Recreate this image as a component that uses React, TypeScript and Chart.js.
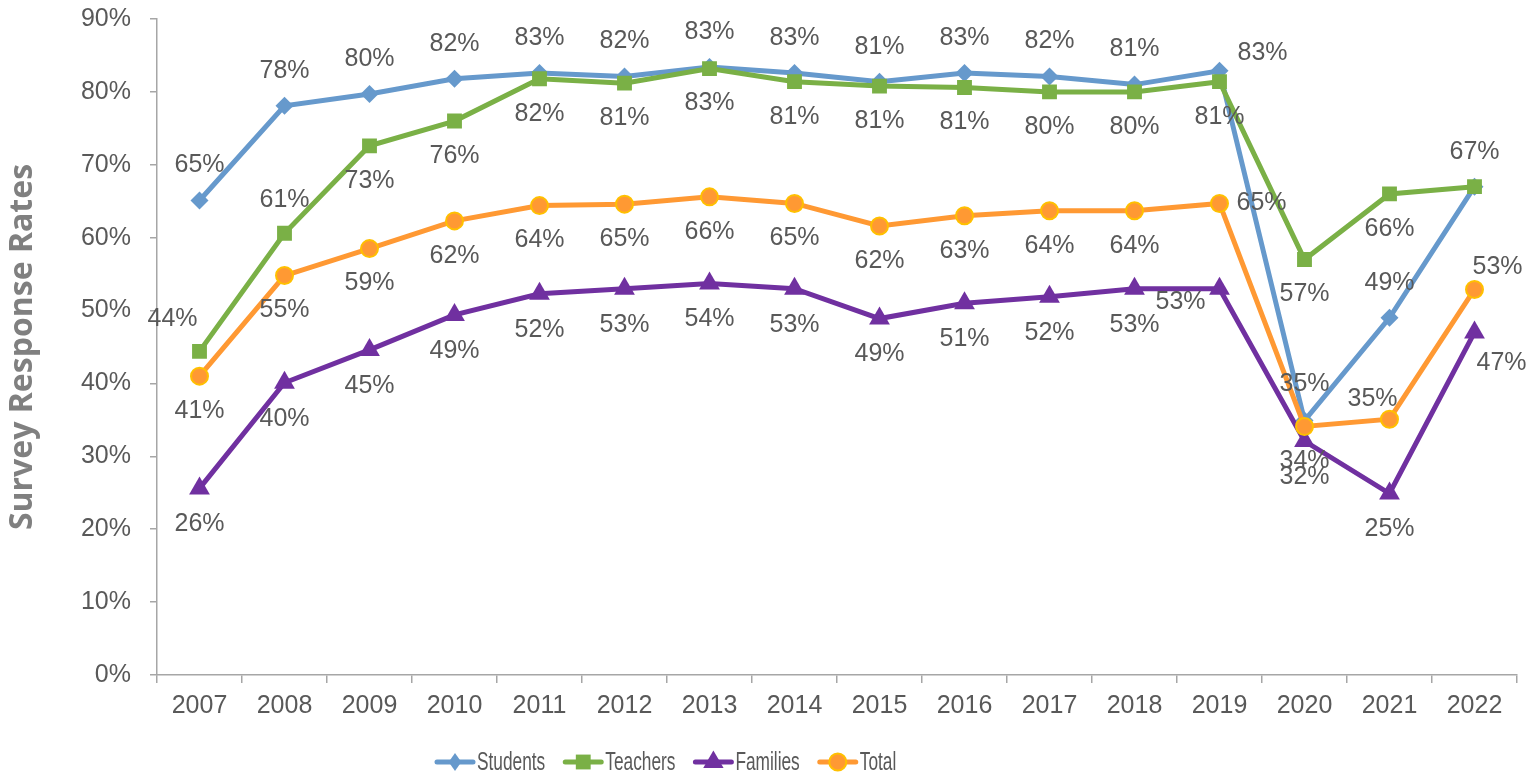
import React, { useEffect, useRef } from 'react';
import { Chart, registerables } from 'chart.js';

Chart.register(...registerables);

const years = ['2007', '2008', '2009', '2010', '2011', '2012', '2013', '2014', '2015', '2016', '2017', '2018', '2019', '2020', '2021', '2022'];
const students = [65.1, 78.1, 79.7, 81.8, 82.6, 82.1, 83.4, 82.6, 81.4, 82.6, 82.1, 81.0, 82.9, 34.9, 49.0, 67.0];
const teachers = [44.4, 60.6, 72.6, 76.0, 81.8, 81.2, 83.2, 81.4, 80.8, 80.6, 80.0, 80.0, 81.4, 57.0, 66.0, 67.0];
const families = [25.6, 40.1, 44.6, 49.4, 52.3, 53.0, 53.7, 53.0, 48.9, 51.0, 51.9, 53.0, 53.0, 32.1, 24.9, 47.0];
const total = [41.0, 54.8, 58.5, 62.3, 64.4, 64.6, 65.6, 64.7, 61.6, 63.0, 63.7, 63.7, 64.7, 34.1, 35.1, 52.9];
const seriesNames = ['Students', 'Teachers', 'Families', 'Total'];

const COLORS = {
  students: '#6699CC',
  teachers: '#7AB046',
  families: '#7030A0',
  total: '#FF9933',
  totalBorder: '#FFC000',
  text: '#595959',
  axis: '#A6A6A6',
  title: '#808080',
};

// canvas is shifted up so the plot area lands where the reference has it
const SHIFT = 15;
const CANVAS_H = 778 + SHIFT;

// label placement: default offset per series plus per-point overrides
const labelPlacement: { def: [number, number]; over: Record<number, [number, number]> }[] = [
  { def: [0, -35], over: { 12: [43, -18], 13: [0, -37] } },
  { def: [0, 35], over: { 0: [-27, -32], 1: [0, -33], 15: [0, -35] } },
  { def: [0, 36], over: { 12: [-39, 13], 15: [27, 31] } },
  { def: [0, 35], over: { 12: [42, 0], 14: [-17, -20], 15: [23, -22] } },
];

const LABEL_FONT = '25px "Liberation Sans", Arial, sans-serif';

const labelPlugin = {
  id: 'pctLabels',
  afterDatasetsDraw(chart: any) {
    const ctx = chart.ctx;
    const drawn = new Set<string>();
    ctx.save();
    ctx.font = LABEL_FONT;
    ctx.fillStyle = COLORS.text;
    ctx.textAlign = 'center';
    ctx.textBaseline = 'middle';
    chart.data.datasets.forEach((ds: any, i: number) => {
      const meta = chart.getDatasetMeta(i);
      const cfg = labelPlacement[i];
      meta.data.forEach((pt: any, j: number) => {
        const off = cfg.over[j] ?? cfg.def;
        const txt = Math.round(ds.data[j]) + '%';
        const x = pt.x + off[0];
        const y = pt.y + off[1];
        const key = txt + '@' + Math.round(x / 4) + ',' + Math.round(y / 4);
        if (drawn.has(key)) return;
        drawn.add(key);
        ctx.fillText(txt, x, y);
      });
    });
    ctx.restore();
  },
};

const legendPlugin = {
  id: 'customLegend',
  afterDraw(chart: any) {
    const ctx = chart.ctx;
    const y = 762 + SHIFT;
    let x = 437;
    const squeeze = 0.665;
    ctx.save();
    ctx.font = '26px "Liberation Sans", Arial, sans-serif';
    chart.data.datasets.forEach((ds: any) => {
      ctx.strokeStyle = ds.borderColor;
      ctx.lineWidth = 5;
      ctx.lineCap = 'round';
      ctx.beginPath();
      ctx.moveTo(x, y);
      ctx.lineTo(x + 36, y);
      ctx.stroke();
      const style = ds.pointStyle;
      const r = ds.pointRadius;
      ctx.fillStyle = ds.pointBackgroundColor;
      ctx.strokeStyle = ds.pointBorderColor;
      ctx.lineWidth = ds.pointBorderWidth;
      const cx = x + 18;
      ctx.beginPath();
      if (style === 'rectRot') {
        ctx.moveTo(cx, y - r);
        ctx.lineTo(cx + r * 0.7, y);
        ctx.lineTo(cx, y + r);
        ctx.lineTo(cx - r * 0.7, y);
        ctx.closePath();
      } else if (style === 'rect') {
        const s = r * 0.707;
        ctx.rect(cx - s, y - s, 2 * s, 2 * s);
      } else if (style === 'triangle') {
        ctx.moveTo(cx, y - r * 0.95);
        ctx.lineTo(cx + r * 0.85, y + r * 0.5);
        ctx.lineTo(cx - r * 0.85, y + r * 0.5);
        ctx.closePath();
      } else {
        ctx.arc(cx, y, r, 0, Math.PI * 2);
      }
      ctx.fill();
      if (ds.pointBorderWidth > 0) ctx.stroke();
      const label = ds.label;
      const w = ctx.measureText(label).width * squeeze;
      ctx.save();
      ctx.translate(x + 40, y);
      ctx.scale(squeeze, 1);
      ctx.fillStyle = COLORS.text;
      ctx.textAlign = 'left';
      ctx.textBaseline = 'middle';
      ctx.fillText(label, 0, 1);
      ctx.restore();
      x += 40 + w + 20;
    });
    ctx.restore();
  },
};

export default function App() {
  const ref = useRef<HTMLCanvasElement | null>(null);

  useEffect(() => {
    if (!ref.current) return;
    const mk = (label: string, data: number[], color: string, style: string, radius: number, border: string, bw: number, order: number) => ({
      label,
      data,
      borderColor: color,
      backgroundColor: color,
      borderWidth: 5,
      pointStyle: style,
      pointRadius: radius,
      pointBackgroundColor: color,
      pointBorderColor: border,
      pointBorderWidth: bw,
      tension: 0,
      order,
    });
    const chart = new Chart(ref.current, {
      type: 'line',
      data: {
        labels: years,
        datasets: [
          mk(seriesNames[0], students, COLORS.students, 'rectRot', 9, COLORS.students, 0, 4),
          mk(seriesNames[1], teachers, COLORS.teachers, 'rect', 10.5, COLORS.teachers, 0, 3),
          mk(seriesNames[2], families, COLORS.families, 'triangle', 12, COLORS.families, 0, 2),
          mk(seriesNames[3], total, COLORS.total, 'circle', 8.5, COLORS.totalBorder, 2, 1),
        ] as any,
      },
      options: {
        animation: false,
        responsive: false,
        devicePixelRatio: 1,
        layout: { autoPadding: false, padding: { left: 0, right: 10, top: 18, bottom: 63 } },
        plugins: {
          legend: { display: false },
          tooltip: { enabled: false },
        },
        scales: {
          x: {
            type: 'category',
            offset: true,
            grid: {
              offset: true,
              drawOnChartArea: false,
              drawTicks: true,
              tickLength: 8,
              color: COLORS.axis,
              lineWidth: 1.5,
            },
            border: { color: COLORS.axis, width: 1.5 },
            ticks: {
              color: COLORS.text,
              font: { family: '"Liberation Sans", Arial, sans-serif', size: 25 },
              padding: 8,
              maxRotation: 0,
              autoSkip: false,
            },
            afterFit: (s: any) => { s.height = 40; },
          },
          y: {
            min: 0,
            max: 90,
            grid: {
              drawOnChartArea: false,
              drawTicks: true,
              tickLength: 7,
              color: COLORS.axis,
              lineWidth: 1.5,
            },
            border: { color: COLORS.axis, width: 1.5 },
            ticks: {
              stepSize: 10,
              color: COLORS.text,
              font: { family: '"Liberation Sans", Arial, sans-serif', size: 25 },
              padding: 19,
              callback: (v: any) => v + '%',
            },
            title: {
              display: true,
              text: 'Survey Response Rates',
              color: COLORS.title,
              font: { family: '"Open Sans", sans-serif', size: 32, weight: 'bold' },
              padding: { top: 4, bottom: 0 },
            },
            afterFit: (s: any) => { s.width = 157; },
          },
        },
      } as any,
      plugins: [labelPlugin, legendPlugin],
    });
    return () => chart.destroy();
  }, []);

  return (
    <div style={{ position: 'absolute', left: 0, top: -SHIFT, width: 1527, height: CANVAS_H, background: '#fff' }}>
      <canvas ref={ref} width={1527} height={CANVAS_H} style={{ display: 'block', width: 1527, height: CANVAS_H }} />
    </div>
  );
}
